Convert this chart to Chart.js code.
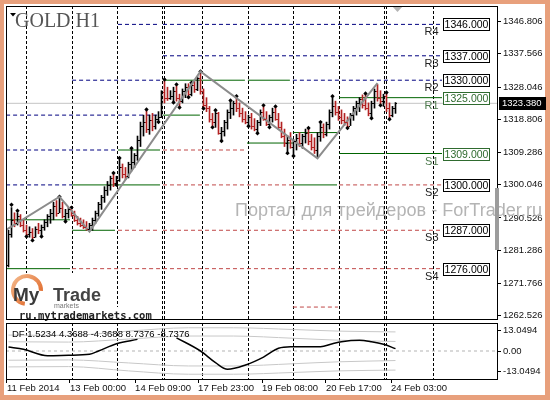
<!DOCTYPE html>
<html>
<head>
<meta charset="utf-8">
<title>GOLD H1</title>
<script src="https://cdn.jsdelivr.net/npm/chart.js@4.4.1/dist/chart.umd.min.js"></script>
<style>
  html, body { margin: 0; padding: 0; }
  #frame { position: relative; width: 550px; height: 400px; background: #e8a07c; overflow: hidden; }
  #inner { position: absolute; left: 4px; top: 4px; width: 541px; height: 391px; background: #fff; }
  canvas { position: absolute; left: 0; }
  #main { top: 0; }
  #sub { top: 321px; }
</style>
</head>
<body>
<div id="frame">
  <div id="inner"></div>
  <canvas id="main" width="550" height="323"></canvas>
  <canvas id="sub" width="550" height="79"></canvas>
</div>
<script>
//Bars, H1
const firstOpen = 1277
const highs = [
  1287, 1293.5, 1292, 1292, 1291.5, 1290, 1288.5, 1288, 1287.5, 1288,
  1289, 1288.5, 1290, 1291.5, 1293, 1295, 1295.5, 1296.2, 1295, 1293,
  1293.5, 1293.8, 1292.5, 1291, 1290.5, 1290, 1289.5, 1289, 1290.5, 1292.5,
  1295, 1297, 1299.5, 1301, 1302.5, 1303, 1302.5, 1307.3, 1306, 1305,
  1306.5, 1310, 1309, 1314, 1318, 1320, 1321.3, 1320, 1320.5, 1320,
  1321, 1327, 1329.8, 1328, 1327, 1328, 1328.5, 1326, 1327.5, 1329,
  1329, 1329, 1330, 1331, 1332.2, 1327.5, 1325, 1322.5, 1320.5, 1321,
  1320.8, 1316.5, 1318.5, 1321.5, 1323.8, 1324, 1325, 1323.5, 1322, 1321,
  1320, 1320.5, 1319, 1318.5, 1321.5, 1322.5, 1321, 1320, 1322, 1322.2,
  1320.5, 1318, 1316, 1314, 1315, 1313, 1314.5, 1315, 1314.5, 1316,
  1316, 1314.5, 1313.5, 1315, 1317.7, 1317.5, 1318, 1321.5, 1325, 1324,
  1322.5, 1321.5, 1320.5, 1319.5, 1320.5, 1322.5, 1324, 1325, 1325.8, 1325.9,
  1323.5, 1324, 1327.5, 1328.8, 1327, 1326, 1326.2, 1323.5, 1322.5, 1323.6
]
const lows = [
  1276.5, 1285, 1288, 1288.5, 1288, 1286.5, 1285.5, 1285, 1284.5, 1285,
  1286, 1285.5, 1287, 1288, 1289, 1290, 1291, 1292, 1290.5, 1289.8,
  1290.5, 1291, 1289.5, 1288.5, 1288, 1287.5, 1287, 1286.8, 1287, 1289,
  1291, 1293, 1295, 1297, 1298.5, 1299.5, 1300.3, 1301, 1302, 1301.5,
  1302, 1304, 1305, 1307, 1311, 1314, 1315, 1314.5, 1315.5, 1316,
  1318.3, 1319.3, 1323.5, 1324.2, 1324.5, 1323.8, 1324, 1322.5, 1323.5, 1325,
  1325.4, 1325.5, 1326.5, 1327, 1326, 1322.2, 1321, 1318, 1316.8, 1316.5,
  1314.5, 1312.9, 1314, 1316, 1319, 1320, 1321, 1319.5, 1318, 1317.5,
  1317.1, 1316, 1315.5, 1315.1, 1317, 1318.5, 1317, 1316.8, 1318, 1318.5,
  1316, 1313.5, 1311, 1309.4, 1310.5, 1308.6, 1310, 1311, 1310.5, 1312,
  1311.5, 1310, 1309, 1307.8, 1312.5, 1313.5, 1314, 1316, 1319.5, 1320,
  1318.5, 1317.5, 1317, 1316.6, 1317, 1318.5, 1320, 1321, 1322, 1321.5,
  1319.8, 1319.4, 1322, 1324, 1323.1, 1322.5, 1321, 1319.1, 1319.5, 1320.5
]
const closes = [
  1286, 1290, 1289, 1291, 1288.5, 1287, 1286, 1286.5, 1285, 1287.5,
  1287, 1288, 1289.5, 1291, 1292, 1294, 1292, 1293.5, 1291, 1292,
  1293, 1291.5, 1290, 1289, 1288.5, 1288, 1287.5, 1288.5, 1290, 1292,
  1294.5, 1296.5, 1298.5, 1300, 1302, 1300.5, 1301.5, 1305, 1303, 1302.5,
  1306, 1306.5, 1308.5, 1313, 1317, 1318, 1316, 1318.5, 1317, 1319,
  1319.5, 1326.5, 1325, 1324.8, 1325.5, 1327, 1325, 1324, 1327, 1328,
  1326, 1328.5, 1327.5, 1330.5, 1327, 1323, 1322, 1319, 1318, 1320.5,
  1315, 1315.5, 1318, 1321, 1322, 1323.5, 1322, 1320.5, 1319, 1318,
  1319.5, 1317, 1316, 1318, 1321, 1319, 1317.5, 1319.5, 1321, 1319,
  1316.5, 1314, 1312, 1313, 1311, 1312.5, 1313.5, 1312, 1314, 1315,
  1312.5, 1311, 1310, 1314, 1316.5, 1314.5, 1317.5, 1321, 1322.5, 1321,
  1319.5, 1318.5, 1318, 1317, 1320, 1322, 1323.5, 1324.5, 1323, 1322,
  1320.5, 1323.5, 1327, 1325, 1324, 1325.5, 1322, 1320, 1322, 1323.38
]

//Fractals [bar, price]
const fracUp = [[1, 1294.3], [3, 1292.6], [17, 1296.6], [21, 1293.5], [35, 1303.4], [37, 1307.7],
  [41, 1310.5], [46, 1321.6], [52, 1330.2], [56, 1328.8], [61, 1329.3], [64, 1332.5], [69, 1321.4],
  [74, 1324.2], [76, 1325.4], [85, 1322.8], [89, 1322.5], [100, 1316.3], [104, 1318], [108, 1325.4],
  [119, 1326.2], [126, 1326.5]]
const fracDown = [[6, 1285.2], [8, 1284.1], [11, 1285.2], [19, 1289.5], [36, 1300], [50, 1318],
  [55, 1323.6], [57, 1322.2], [60, 1325.1], [65, 1321.9], [68, 1316.5], [71, 1312.6], [80, 1316.8],
  [83, 1314.8], [87, 1316.5], [93, 1309.1], [95, 1308.3], [113, 1316.3], [121, 1319.1], [124, 1322.8],
  [127, 1318.8]]

//ZigZag [bar, price]
const zigzag = [[-0.8, 1287.1], [17, 1296.6], [27, 1286.6], [64, 1332.5], [103, 1307.6], [123, 1329.2]]

//Pivot levels [price, from bar, to bar]
const resSegments = [[1346, 36.5, 50.5], [1346, 51.5, 144.5], [1337, 51.5, 144.5], [1330, 21.2, 50.5],
  [1330, 94.8, 144.5], [1320, -0.8, 50.5], [1310, -0.8, 36.2], [1300, -0.8, 21.2]]
const midSegments = [[1330, 52.2, 78.8], [1330, 79.8, 93.8], [1325, 110.2, 125.2], [1325, 125.8, 144.5],
  [1320, 51.5, 63.8], [1312, 79.5, 94.8], [1315, 94.8, 109.5], [1310, 36.5, 50.5], [1309, 110.2, 125.2],
  [1309, 125.8, 144.5], [1300, 21.2, 50.5], [1300, 94.8, 109.5], [1290, -0.8, 20.5], [1287, 21.2, 35.5],
  [1276, -0.8, 20.5]]
const supSegments = [[1310, 51.5, 78.8], [1300, 51.5, 94.8], [1300, 110.2, 144.5], [1287, 36.5, 50.5],
  [1287, 51.5, 144.5], [1276, 21.2, 50.5], [1276, 51.5, 144.5], [1265, 94.8, 109.8]]
const levelNames = ['R4', 'R3', 'R2', 'R1', 'S1', 'S2', 'S3', 'S4']
const levelValues = [1346, 1337, 1330, 1325, 1309, 1300, 1287, 1276]
const levelBoxAt = 144.8

//Axes
const priceTicks = [1262.526, 1271.766, 1281.286, 1290.526, 1300.046, 1309.286, 1318.806, 1328.046, 1337.566, 1346.806]
const daySeparators = [5.8, 21.2, 36.2, 51.2, 51.8, 64.5, 79.8, 94.8, 110.2, 125.2, 125.8, 141.5]
const timeTickAt = [-0.5, 20.5, 42.2, 63.2, 84.5, 105.8, 127.5]
const timeLabels = ['11 Feb 2014', '13 Feb 00:00', '14 Feb 09:00', '17 Feb 23:00', '19 Feb 08:00', '20 Feb 17:00', '24 Feb 03:00']

//DF window
const dfX = [0, 5, 13, 20, 27, 30, 36, 43, 50, 56, 64, 69, 73, 79, 85, 90, 94, 104, 108, 111, 117, 121, 125, 129]
const dfY = [2.5, 1.1, -3, -2.7, -2.1, 0, 4.6, 7.3, null, 8.3, 0, -7.3, -11.5, -8.8, -3.8, 1.7, 2.7, 2.7, 4.6, 5.8, 6.7, 5.8, 4.2, 1.5]
const bandX = [0, 20, 40, 60, 75, 95, 110, 129]
const bandInner = [5.8, 5.6, 7.5, 9.4, 9.4, 8, 6.8, 6]
const bandOuter = [10, 9.8, 12.5, 14.6, 14.6, 13.5, 12.5, 12]
const dfTicks = [-13.0494, 0, 13.0494]
const dfTickLabels = ['-13.0494', '0.00', '13.0494']
const dfTitle = 'DF 1.5234 4.3688 -4.3688 8.7376 -8.7376'
const watermark = 'Портал для трейдеров - ForTrader.ru'

const xMin = -0.8333, xMax = 162.8333
const upColor = '#000000', downColor = '#b22222'
const FONT = '"Liberation Sans", Arial, sans-serif'
const opens = closes.map((c, i) => i ? closes[i - 1] : firstOpen)
const lastClose = closes[closes.length - 1]

const segData = segs => segs.flatMap(([p, a, b]) => [{x: a, y: p}, {x: b, y: p}, {x: b, y: null}])
const line = (data, color, width, dash) => ({
    type: 'line', data, borderColor: color, borderWidth: width, borderDash: dash || [],
    pointRadius: 0, tension: 0, spanGaps: false
})

const drawSeparators = (chart) => {
    const {ctx, chartArea: a, scales: {x}} = chart
    ctx.save()
    ctx.strokeStyle = '#000'
    ctx.lineWidth = 1
    ctx.setLineDash([3, 2])
    daySeparators.forEach(v => {
        const px = Math.round(x.getPixelForValue(v)) + 0.5
        ctx.beginPath()
        ctx.moveTo(px, a.top)
        ctx.lineTo(px, a.bottom)
        ctx.stroke()
    })
    ctx.restore()
}

const mainDeco = {
    id: 'mainDeco',
    beforeDatasetsDraw(chart) {
        const {ctx} = chart
        ctx.save()
        ctx.font = '16px ' + FONT
        const w = ctx.measureText(watermark).width
        ctx.font = (16 * 307 / w).toFixed(2) + 'px ' + FONT
        ctx.fillStyle = '#b4b4b4'
        ctx.textBaseline = 'middle'
        ctx.fillText(watermark, 235, 211)
        ctx.restore()
        drawSeparators(chart)
    },
    afterDatasetsDraw(chart) {
        //open / close ticks
        const {ctx, scales: {x, y}} = chart
        ctx.save()
        closes.forEach((c, i) => {
            const px = Math.round(x.getPixelForValue(i) - 0.5)
            ctx.fillStyle = c >= opens[i] ? upColor : downColor
            ctx.fillRect(px - 1, Math.round(y.getPixelForValue(opens[i])), 1, 1)
            ctx.fillRect(px + 1, Math.round(y.getPixelForValue(c)), 1, 1)
        })
        ctx.restore()
    },
    afterDraw(chart) {
        const {ctx, chartArea: a, scales: {x, y}} = chart
        ctx.save()

        //level names and boxes
        const bx = Math.round(x.getPixelForValue(levelBoxAt)) + 0.5
        levelNames.forEach((name, k) => {
            const py = Math.round(y.getPixelForValue(levelValues[k])) + 0.5
            const col = (name === 'R1' || name === 'S1') ? '#2f6b2f' : '#000'
            ctx.fillStyle = '#fff'
            ctx.fillRect(bx, py - 6, 46, 12)
            ctx.strokeStyle = col
            ctx.lineWidth = 1
            ctx.strokeRect(bx, py - 6, 46, 12)
            ctx.fillStyle = col
            ctx.font = '10.5px ' + FONT
            ctx.textAlign = 'center'
            ctx.textBaseline = 'middle'
            ctx.fillText(levelValues[k].toFixed(3), bx + 23, py + 0.5)
            ctx.font = '11px ' + FONT
            ctx.textAlign = 'right'
            ctx.fillStyle = (name === 'R1' || name === 'S1') ? '#4d7a4d' : '#222'
            ctx.fillText(name, bx - 5, py + 7)
        })

        //current price
        const cy = Math.round(y.getPixelForValue(lastClose))
        ctx.fillStyle = '#000'
        ctx.fillRect(a.right + 2, cy - 6, 47, 13)
        ctx.fillStyle = '#fff'
        ctx.font = '9.5px ' + FONT
        ctx.textAlign = 'left'
        ctx.textBaseline = 'middle'
        ctx.fillText(lastClose.toFixed(3), a.right + 5, cy + 0.5)

        //title
        ctx.fillStyle = '#555'
        ctx.font = '20px "Liberation Serif", serif'
        ctx.textBaseline = 'alphabetic'
        ctx.fillText('GOLD H1', 15, 27)
        ctx.fillStyle = '#000'
        ctx.beginPath()
        ctx.moveTo(10, 13); ctx.lineTo(16, 13); ctx.lineTo(13, 16.5); ctx.closePath()
        ctx.fill()

        //chart shift mark
        ctx.fillStyle = '#b4b4b4'
        ctx.beginPath()
        ctx.moveTo(392, 6); ctx.lineTo(403, 6); ctx.lineTo(397.5, 12); ctx.closePath()
        ctx.fill()

        //logo
        ctx.fillStyle = '#fff'
        ctx.fillRect(8, 273, 98, 34)
        ctx.fillRect(8, 307, 146, 13)
        const g = ctx.createLinearGradient(12, 276, 42, 306)
        g.addColorStop(0, '#f4b98c')
        g.addColorStop(1, '#dc5a18')
        ctx.strokeStyle = g
        ctx.lineWidth = 4
        ctx.beginPath()
        ctx.arc(27, 290, 14, Math.PI * 0.55, Math.PI * 2.02)
        ctx.stroke()
        ctx.fillStyle = '#3a3a3a'
        ctx.font = 'bold 19px ' + FONT
        ctx.fillText('My', 13, 301)
        ctx.fillStyle = '#444'
        ctx.font = 'bold 18px ' + FONT
        ctx.fillText('Trade', 53, 301)
        ctx.fillStyle = '#777'
        ctx.font = '7px ' + FONT
        ctx.fillText('markets', 54, 308)
        ctx.fillStyle = '#222'
        ctx.font = 'bold 10.5px "DejaVu Sans Mono", monospace'
        ctx.fillText('ru.mytrademarkets.com', 19, 319)

        //border
        ctx.strokeStyle = '#000'
        ctx.lineWidth = 1
        ctx.strokeRect(a.left + 0.5, a.top + 0.5, a.right - a.left, a.bottom - a.top)
        ctx.fillStyle = '#9c9c9c'
        ctx.fillRect(495, 188, 4, 62)
        ctx.restore()
    }
}

const mainChart = new Chart(document.getElementById('main'), {
    type: 'line',
    data: {
        datasets: [
            line(zigzag.map(([i, p]) => ({x: i, y: p})), '#8c8c8c', 2),
            {type: 'line', showLine: false, data: fracUp.concat(fracDown).map(([i, p]) => ({x: i, y: p})),
                pointStyle: 'rectRot', pointRadius: 2.2, backgroundColor: '#000', borderColor: '#000', borderWidth: 0},
            {type: 'bar', data: highs.map((h, i) => ({x: i, y: [lows[i], h]})),
                backgroundColor: closes.map((c, i) => c >= opens[i] ? upColor : downColor),
                barThickness: 1, borderWidth: 0},
            line([{x: xMin, y: lastClose}, {x: xMax, y: lastClose}], '#c4c4c4', 1),
            line(segData(resSegments), '#000080', 1, [4, 3]),
            line(segData(midSegments), '#006400', 1),
            line(segData(supSegments), '#c04848', 1, [4, 3])
        ]
    },
    options: {
        responsive: false,
        animation: false,
        devicePixelRatio: 1,
        events: [],
        layout: {padding: {left: 6, top: 6, right: 0, bottom: 2}},
        plugins: {legend: {display: false}, tooltip: {enabled: false}},
        scales: {
            x: {type: 'linear', display: false, min: xMin, max: xMax, offset: false, grid: {offset: false}},
            y: {
                type: 'linear', position: 'right', min: 1261.575, max: 1351.268, beginAtZero: false,
                afterBuildTicks: s => { s.ticks = priceTicks.map(v => ({value: v})) },
                afterFit: s => { s.width = 53; s.paddingTop = 0; s.paddingBottom = 0 },
                ticks: {callback: v => v.toFixed(3), color: '#111', padding: 2, font: {family: FONT, size: 9.5}},
                grid: {drawOnChartArea: false, drawTicks: true, tickLength: 4, color: '#000'},
                border: {display: false}
            }
        }
    },
    plugins: [mainDeco]
})

const subDeco = {
    id: 'subDeco',
    beforeDatasetsDraw(chart) {
        drawSeparators(chart)
    },
    afterDraw(chart) {
        const {ctx, chartArea: a} = chart
        ctx.save()
        ctx.strokeStyle = '#000'
        ctx.lineWidth = 1
        ctx.strokeRect(a.left + 0.5, a.top + 0.5, a.right - a.left, a.bottom - a.top)
        ctx.fillStyle = '#000'
        ctx.font = '9.5px ' + FONT
        ctx.textBaseline = 'middle'
        ctx.fillText(dfTitle, a.left + 6, a.top + 11)
        ctx.restore()
    }
}

const band = (vals, sign) => Object.assign(
    line(bandX.map((v, k) => ({x: v, y: sign * vals[k]})), '#c8c8c8', 1),
    {cubicInterpolationMode: 'monotone'})

const subChart = new Chart(document.getElementById('sub'), {
    type: 'line',
    data: {
        datasets: [
            Object.assign(line(dfX.map((v, k) => ({x: v, y: dfY[k]})), '#000', 1.5), {cubicInterpolationMode: 'monotone'}),
            band(bandInner, 1),
            band(bandInner, -1),
            band(bandOuter, 1),
            band(bandOuter, -1),
            line([{x: xMin, y: 0}, {x: xMax, y: 0}], '#b4b4b4', 1, [3, 3])
        ]
    },
    options: {
        responsive: false,
        animation: false,
        devicePixelRatio: 1,
        events: [],
        layout: {padding: {left: 6, top: 2, right: 0, bottom: 0}},
        plugins: {legend: {display: false}, tooltip: {enabled: false}},
        scales: {
            x: {
                type: 'linear', min: xMin, max: xMax, offset: false,
                afterBuildTicks: s => { s.ticks = timeTickAt.map(v => ({value: v})) },
                afterFit: s => { s.height = 21; s.paddingLeft = 0; s.paddingRight = 0 },
                ticks: {autoSkip: false, maxRotation: 0, minRotation: 0, align: 'start', padding: 0,
                    color: '#111', font: {family: FONT, size: 9.5}, callback: (v, i) => timeLabels[i]},
                grid: {drawOnChartArea: false, drawTicks: true, tickLength: 4, color: '#000', offset: false},
                border: {display: false}
            },
            y: {
                type: 'linear', position: 'right', min: -17.6, max: 17.6,
                afterBuildTicks: s => { s.ticks = dfTicks.map(v => ({value: v})) },
                afterFit: s => { s.width = 53; s.paddingTop = 0; s.paddingBottom = 0 },
                ticks: {callback: (v, i) => dfTickLabels[i], color: '#111', padding: 2, font: {family: FONT, size: 9.5}},
                grid: {drawOnChartArea: false, drawTicks: true, tickLength: 4, color: '#000'},
                border: {display: false}
            }
        }
    },
    plugins: [subDeco]
})
</script>
</body>
</html>
